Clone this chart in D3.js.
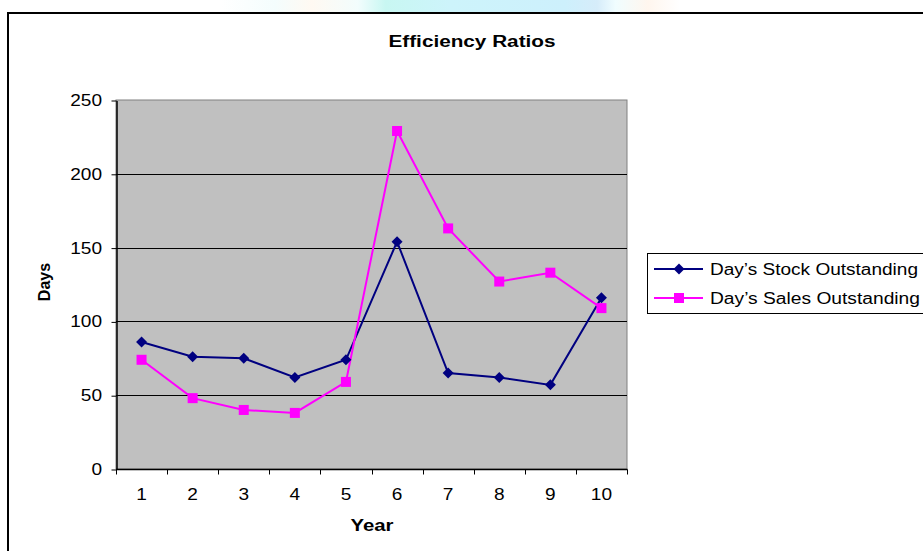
<!DOCTYPE html>
<html>
<head>
<meta charset="utf-8">
<script src="https://cdn.jsdelivr.net/npm/d3@7/dist/d3.min.js"></script>
<style>
  html, body { margin: 0; padding: 0; background: #fff; }
  svg { display: block; font-family: "Liberation Sans", Arial, sans-serif; }
</style>
</head>
<body>
<svg id="chart" width="923" height="551"></svg>
<script>
// Chart data
const years = [1, 2, 3, 4, 5, 6, 7, 8, 9, 10];
const stockDays = [86, 76, 75, 62, 74, 154, 65, 62, 57, 116];
const salesDays = [74, 48, 40, 38, 59, 229, 163, 127, 133, 109];
const yTicks = [0, 50, 100, 150, 200, 250];
const seriesNames = ["Day\u2019s Stock Outstanding", "Day\u2019s Sales Outstanding"];

const svg = d3.select("#chart");
const W = 923, H = 551;
const plot = { left: 116, right: 627, top: 100, bottom: 469 };
const FS = 16;          // base font size
const DIGIT_W = 10.6;   // wide digit advance used for tick labels

// Soft banner strip above the frame
const defs = svg.append("defs");
const grad = defs.append("linearGradient").attr("id", "band").attr("x1", 0).attr("x2", 1);
[[0, "#ffffff"], [0.12, "#f4fdfd"], [0.2, "#fff9f2"], [0.3, "#f2fdfd"], [0.36, "#c8f7f2"],
 [0.5, "#cdf4fb"], [0.75, "#cdf0fc"], [0.82, "#d6ecfa"], [0.86, "#f0fdff"], [0.93, "#fff6ee"], [1, "#ffffff"]]
  .forEach(([o, c]) => grad.append("stop").attr("offset", o).attr("stop-color", c));
svg.append("rect").attr("x", 220).attr("y", 0).attr("width", 460).attr("height", 12).attr("fill", "url(#band)");

// Outer chart frame
svg.append("rect").attr("x", 8).attr("y", 13).attr("width", W + 10).attr("height", H + 10)
  .attr("fill", "#fff").attr("stroke", "#000").attr("stroke-width", 2);

const x = d3.scaleBand().domain(years).range([plot.left, plot.right]);
const y = d3.scaleLinear().domain([0, 250]).range([plot.bottom, plot.top]);

// Plot area
svg.append("rect").attr("x", plot.left).attr("y", plot.top)
  .attr("width", plot.right - plot.left).attr("height", plot.bottom - plot.top)
  .attr("fill", "#c0c0c0").attr("stroke", "#808080").attr("stroke-width", 1);

// Gridlines
svg.append("g").selectAll("line").data(yTicks.filter(d => d > 0 && d < 250)).join("line")
  .attr("x1", plot.left).attr("x2", plot.right)
  .attr("y1", d => Math.round(y(d)) + 0.5).attr("y2", d => Math.round(y(d)) + 0.5)
  .attr("stroke", "#000").attr("stroke-width", 1);

// Y axis: ticks from the axis generator, labels drawn wide
const yAxis = svg.append("g").attr("transform", `translate(${plot.left + 0.5},0.5)`)
  .call(d3.axisLeft(y).tickValues(yTicks).tickSize(5).tickFormat("").tickSizeOuter(0));
yAxis.select(".domain").attr("stroke", "#000").attr("stroke-width", 1.5);
svg.append("g").selectAll("text").data(yTicks).join("text")
  .attr("x", 102).attr("y", d => y(d) + 6)
  .attr("text-anchor", "end").attr("font-size", FS)
  .attr("textLength", d => String(d).length * DIGIT_W).attr("lengthAdjust", "spacingAndGlyphs")
  .text(d => d);

// X axis with ticks at category boundaries
const xAxisG = svg.append("g").attr("transform", `translate(0,${plot.bottom + 0.5})`);
xAxisG.append("line").attr("x1", plot.left).attr("x2", plot.right + 0.5)
  .attr("stroke", "#000").attr("stroke-width", 1.5);
const bounds = years.map(d => x(d)).concat([plot.right]);
xAxisG.selectAll("line.tick").data(bounds).join("line").attr("class", "tick")
  .attr("x1", d => Math.round(d) + 0.5).attr("x2", d => Math.round(d) + 0.5)
  .attr("y1", 0).attr("y2", 5).attr("stroke", "#000");
xAxisG.selectAll("text").data(years).join("text")
  .attr("x", d => x(d) + x.bandwidth() / 2).attr("y", 30)
  .attr("text-anchor", "middle").attr("font-size", FS)
  .attr("textLength", d => String(d).length * DIGIT_W).attr("lengthAdjust", "spacingAndGlyphs")
  .text(d => d);

const cx = d => x(d) + x.bandwidth() / 2;
const line = d3.line().x(d => cx(d[0])).y(d => y(d[1]));

// Series lines and markers
const navy = "#000080", pink = "#ff00ff";
svg.append("path").datum(years.map((d, i) => [d, stockDays[i]])).attr("d", line)
  .attr("fill", "none").attr("stroke", navy).attr("stroke-width", 2);
svg.append("path").datum(years.map((d, i) => [d, salesDays[i]])).attr("d", line)
  .attr("fill", "none").attr("stroke", pink).attr("stroke-width", 2);

const diamond = (px, py, r) => `M${px},${py - r}L${px + r},${py}L${px},${py + r}L${px - r},${py}Z`;
svg.append("g").selectAll("path").data(years.map((d, i) => [d, stockDays[i]])).join("path")
  .attr("d", d => diamond(cx(d[0]), y(d[1]), 5.5)).attr("fill", navy);
svg.append("g").selectAll("rect").data(years.map((d, i) => [d, salesDays[i]])).join("rect")
  .attr("x", d => cx(d[0]) - 5).attr("y", d => y(d[1]) - 5)
  .attr("width", 10).attr("height", 10).attr("fill", pink);

// Titles
svg.append("text").attr("x", 472).attr("y", 47).attr("text-anchor", "middle")
  .attr("font-size", FS).attr("font-weight", "bold")
  .attr("textLength", 167).attr("lengthAdjust", "spacingAndGlyphs").text("Efficiency Ratios");
svg.append("text").attr("x", 372).attr("y", 531).attr("text-anchor", "middle")
  .attr("font-size", FS).attr("font-weight", "bold")
  .attr("textLength", 43).attr("lengthAdjust", "spacingAndGlyphs").text("Year");
svg.append("text").attr("transform", "translate(50,282) rotate(-90)").attr("text-anchor", "middle")
  .attr("font-size", FS).attr("font-weight", "bold").text("Days");

// Legend
const lg = svg.append("g");
lg.append("rect").attr("x", 647.5).attr("y", 253.5).attr("width", 290).attr("height", 60)
  .attr("fill", "#fff").attr("stroke", "#000").attr("stroke-width", 1);
const rows = [
  { name: seriesNames[0], color: navy, shape: "diamond", yy: 269, w: 208 },
  { name: seriesNames[1], color: pink, shape: "square", yy: 298, w: 210 }
];
rows.forEach(r => {
  lg.append("line").attr("x1", 654).attr("x2", 703).attr("y1", r.yy).attr("y2", r.yy)
    .attr("stroke", r.color).attr("stroke-width", 2);
  if (r.shape === "diamond") {
    lg.append("path").attr("d", diamond(679, r.yy, 5.5)).attr("fill", r.color);
  } else {
    lg.append("rect").attr("x", 674).attr("y", r.yy - 5).attr("width", 10).attr("height", 10).attr("fill", r.color);
  }
  lg.append("text").attr("x", 710).attr("y", r.yy + 6).attr("font-size", FS)
    .attr("textLength", r.w).attr("lengthAdjust", "spacingAndGlyphs").text(r.name);
});
</script>
</body>
</html>
